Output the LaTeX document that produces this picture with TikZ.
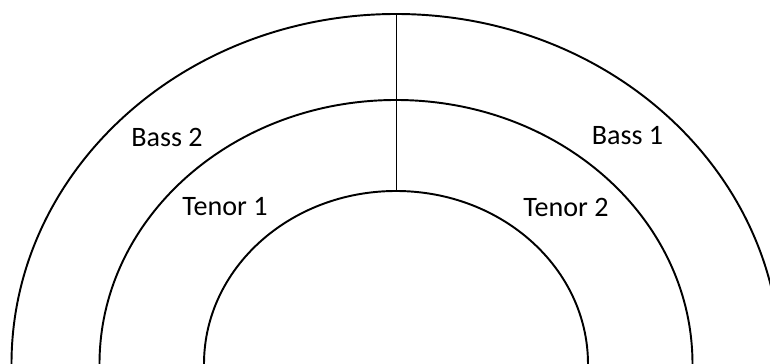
\documentclass[tikz,border=0pt]{standalone}
\usepackage{fontspec}
\setmainfont{Carlito}
\usepackage{tikz}
\usetikzlibrary{positioning}

\begin{document}
\begin{tikzpicture}[
    ring/.style={draw, line width=1.1pt},
    part/.style={font=\fontsize{16}{19}\selectfont}
]

\useasboundingbox (0, 0) rectangle (15.4, 7.28);
\clip (0, 0) rectangle (15.4, 7.28);

% Rings
\draw[ring] (7.92-7.69, 0) arc[start angle=180, end angle=0, x radius=7.69, y radius=7.0];
\draw[ring] (7.92-5.93, 0) arc[start angle=180, end angle=0, x radius=5.93, y radius=5.28];
\draw[ring] (7.92-3.84, 0) arc[start angle=180, end angle=0, x radius=3.84, y radius=3.46];

% Divider
\coordinate (top) at (7.93, 7.0);
\coordinate (inner) at (7.93, 3.46);
\draw[ring] (top) -- (inner);

% Voices
\node[part] (bass2) at (3.34, 4.54) {Bass 2};
\node[part] (bass1) at (12.55, 4.56) {Bass 1};
\node[part] (tenor1) at (4.5, 3.14) {Tenor 1};
\node[part] (tenor2) at (11.32, 3.14) {Tenor 2};

\end{tikzpicture}
\end{document}
